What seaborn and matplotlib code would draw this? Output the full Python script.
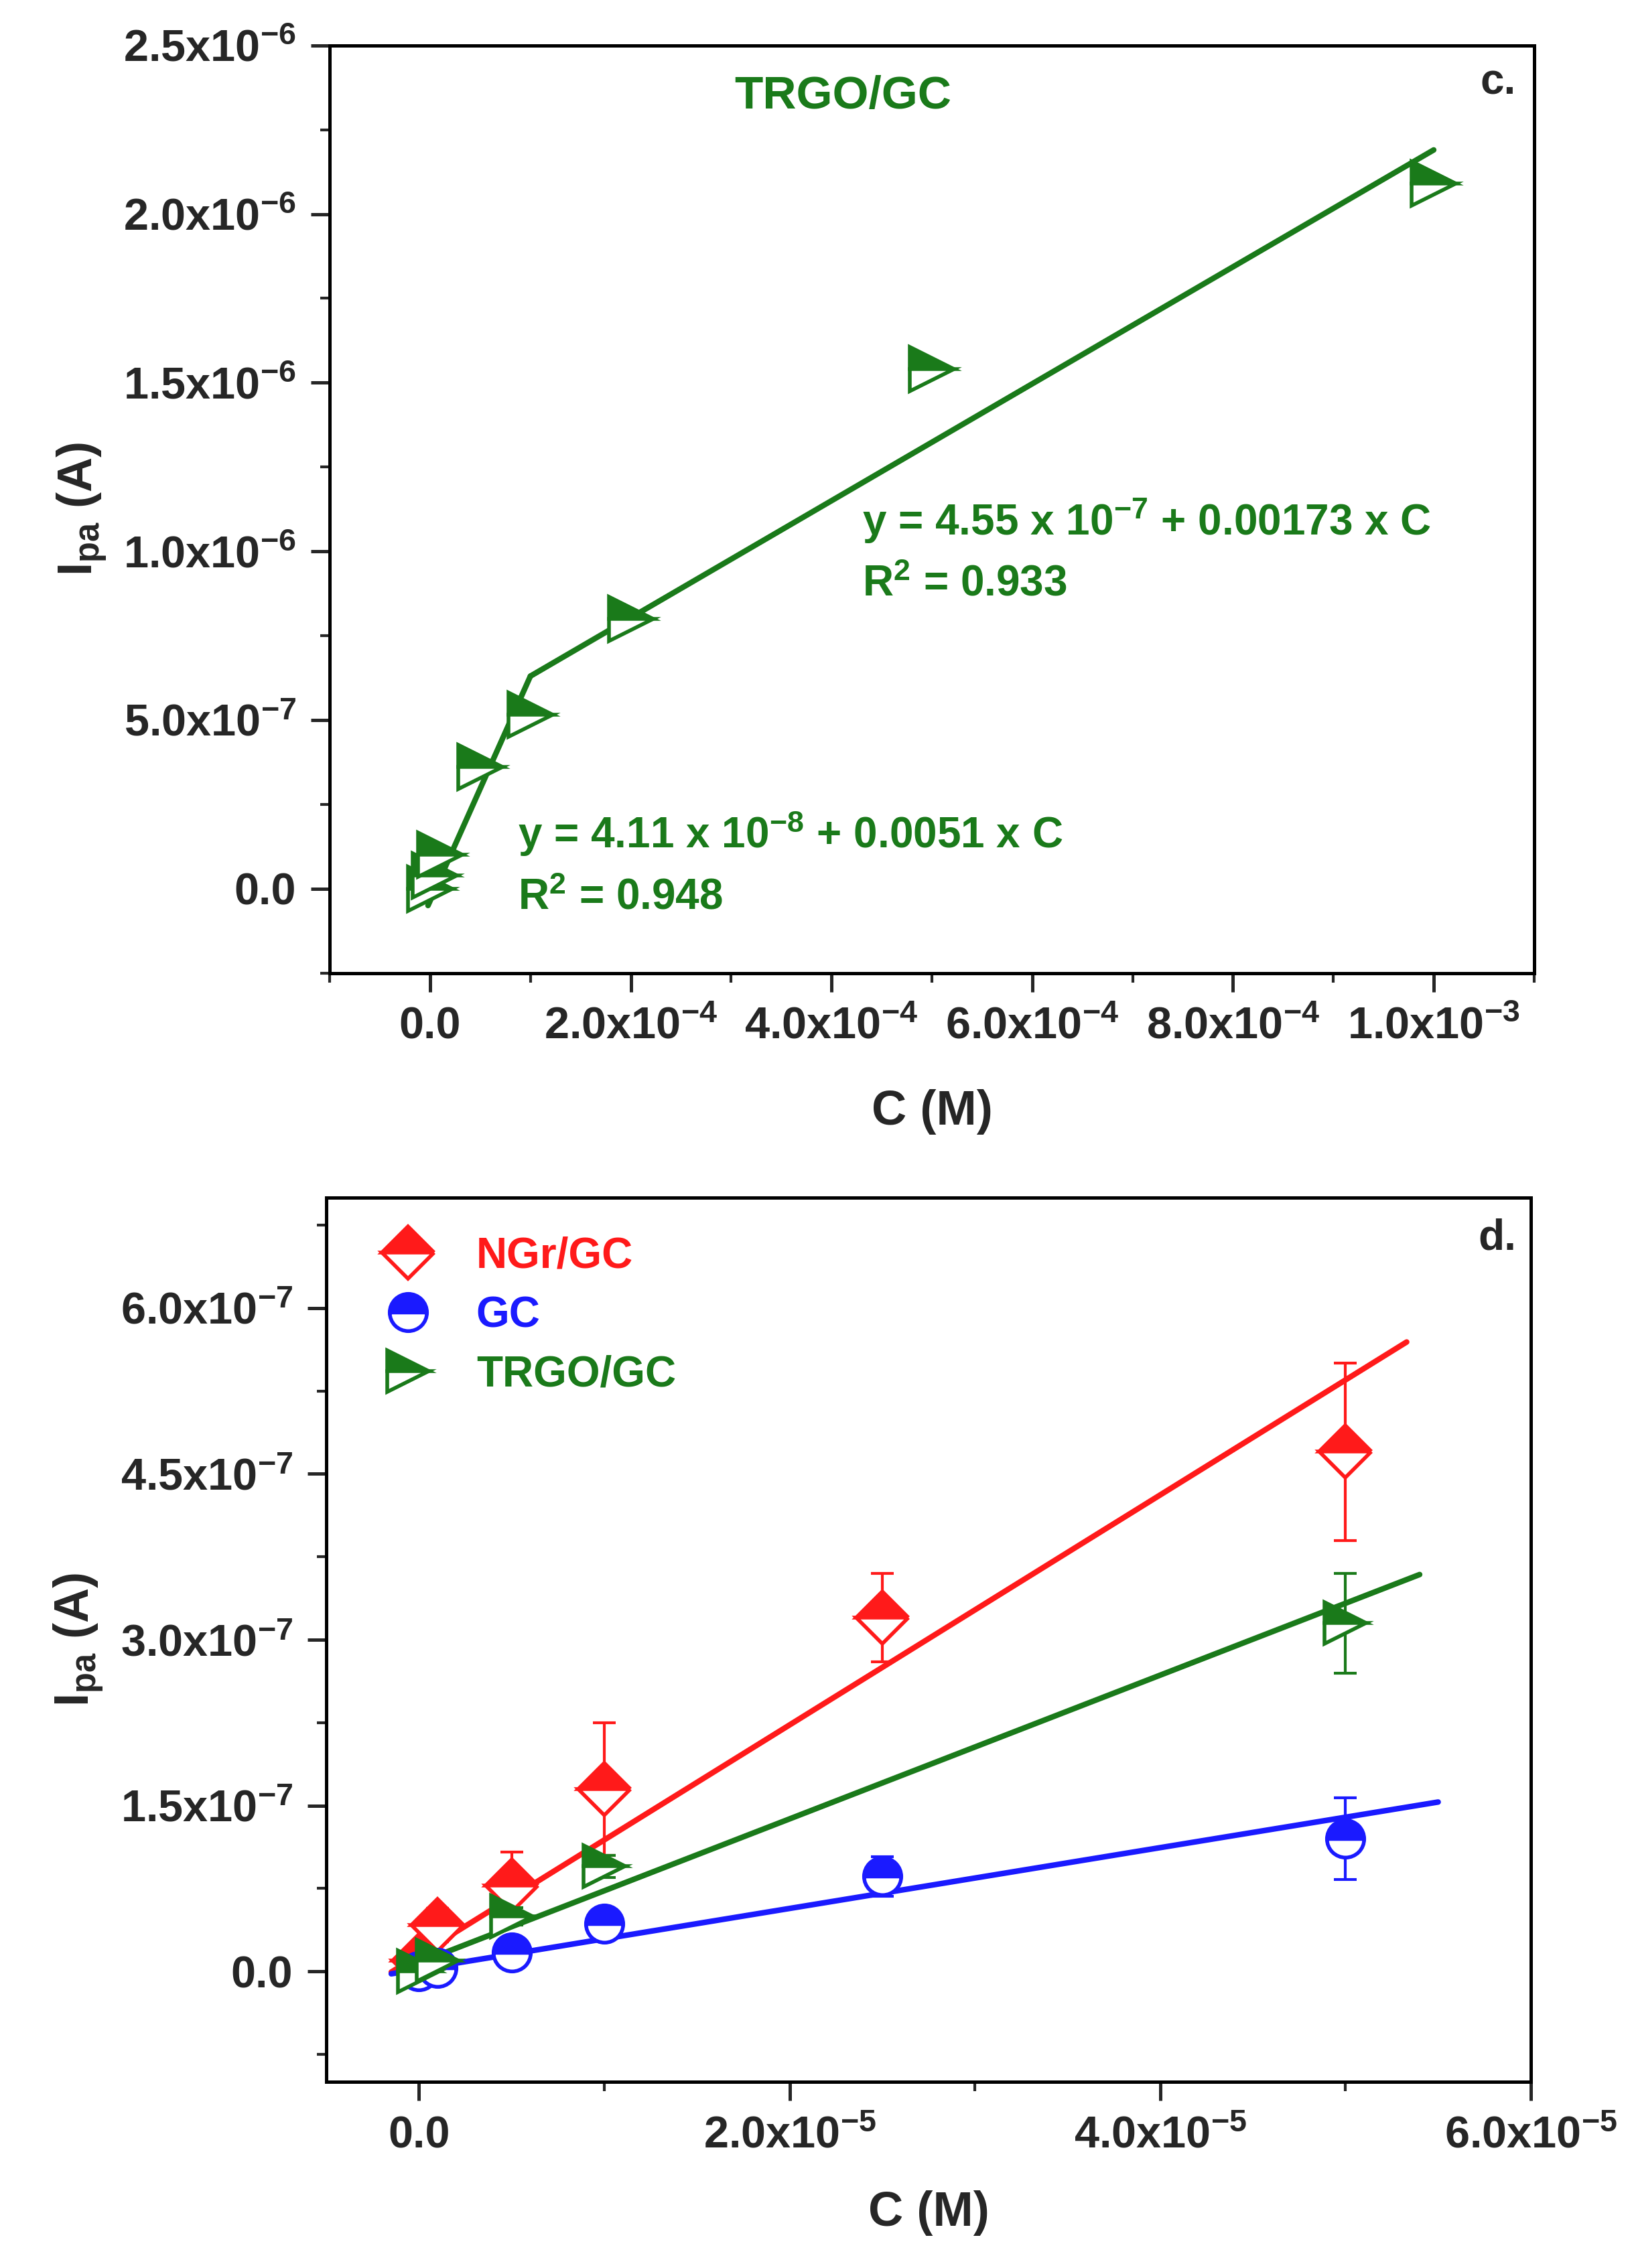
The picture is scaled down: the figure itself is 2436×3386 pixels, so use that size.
import matplotlib
matplotlib.use("Agg")
import matplotlib.pyplot as plt
import numpy as np
import seaborn as sns
from matplotlib.ticker import FuncFormatter, MultipleLocator

sns.set_style("ticks")
plt.rcParams["font.family"] = ["Liberation Sans", "DejaVu Sans"]
plt.rcParams["font.weight"] = "bold"
plt.rcParams["mathtext.fontset"] = "custom"
plt.rcParams["mathtext.rm"] = "Liberation Sans:bold"
plt.rcParams["mathtext.bf"] = "Liberation Sans:bold"
plt.rcParams["mathtext.it"] = "Liberation Sans:bold"

GREEN = "#1a7a1a"
RED = "#ff1a1a"
BLUE = "#1a1aff"

# panel c: TRGO/GC calibration
c_conc = [0, 5e-6, 1e-5, 5e-5, 1e-4, 2e-4, 5e-4, 1e-3]
c_ipa = [0.0, 0.04e-6, 0.10e-6, 0.36e-6, 0.515e-6, 0.80e-6, 1.54e-6, 2.09e-6]
c_fit1_x = [-2e-6, 1e-4]
c_fit1_y = [-0.05e-6, 0.63e-6]
c_fit2_x = [1e-4, 1e-3]
c_fit2_y = [0.63e-6, 2.19e-6]

# panel d: comparison of electrodes
d_conc = [0, 1e-6, 5e-6, 1e-5, 2.5e-5, 5e-5]
ngr_y = [0.10e-7, 0.42e-7, 0.78e-7, 1.65e-7, 3.2e-7, 4.7e-7]
ngr_err = [0.10e-7, 0.15e-7, 0.30e-7, 0.60e-7, 0.40e-7, 0.80e-7]
gc_y = [0.0, 0.03e-7, 0.17e-7, 0.43e-7, 0.86e-7, 1.2e-7]
gc_err = [0.03e-7, 0.04e-7, 0.05e-7, 0.05e-7, 0.18e-7, 0.37e-7]
trgo_x = [0, 1e-6, 5e-6, 1e-5, 5e-5]
trgo_y = [0.0, 0.10e-7, 0.50e-7, 0.95e-7, 3.15e-7]
trgo_err = [0.03e-7, 0.05e-7, 0.08e-7, 0.10e-7, 0.45e-7]
fit_slope = {"NGr/GC": 1.04e-2, "GC": 2.75e-3, "TRGO/GC": 6.5e-3}
fit_icpt = {"NGr/GC": 0.15e-7, "GC": 0.02e-7, "TRGO/GC": 0.08e-7}
fit_range = {"NGr/GC": (-1.5e-6, 5.33e-5), "GC": (-1.5e-6, 5.5e-5), "TRGO/GC": (-1e-6, 5.4e-5)}


def sci_fmt(v, pos):
    if abs(v) < 1e-20:
        return "0.0"
    e = int(np.floor(np.log10(abs(v))))
    m = v / 10 ** e
    return f"{m:.1f}x10$^{{{e}}}$"


def style_axes(ax):
    for s in ax.spines.values():
        s.set_linewidth(1.8)
        s.set_color("black")
    ax.tick_params(which="major", direction="out", length=10, width=1.8, labelsize=24, pad=8)
    ax.tick_params(which="minor", direction="out", length=5, width=1.5)
    ax.xaxis.set_major_formatter(FuncFormatter(sci_fmt))
    ax.yaxis.set_major_formatter(FuncFormatter(sci_fmt))
    for lab in ax.get_xticklabels() + ax.get_yticklabels():
        lab.set_fontweight("bold")


fig = plt.figure(figsize=(12.18, 16.93), dpi=200)
ax1 = fig.add_axes([0.202, 0.571, 0.738, 0.409])
ax2 = fig.add_axes([0.200, 0.082, 0.738, 0.390])

# panel c
sns.lineplot(x=c_fit1_x, y=c_fit1_y, ax=ax1, color=GREEN, lw=3)
sns.lineplot(x=c_fit2_x, y=c_fit2_y, ax=ax1, color=GREEN, lw=3)
ax1.plot(c_conc, c_ipa, ls="none", marker=">", ms=24, mew=2, color=GREEN,
         fillstyle="top", markerfacecoloralt="white")
ax1.set_xlim(-1e-4, 1.1e-3)
ax1.set_ylim(-0.25e-6, 2.5e-6)
ax1.xaxis.set_major_locator(MultipleLocator(2e-4))
ax1.xaxis.set_minor_locator(MultipleLocator(1e-4))
ax1.yaxis.set_major_locator(MultipleLocator(0.5e-6))
ax1.yaxis.set_minor_locator(MultipleLocator(0.25e-6))
style_axes(ax1)
ax1.set_xlabel("C (M)", fontsize=26, fontweight="bold", labelpad=22)
ax1.set_ylabel("I$_{pa}$ (A)", fontsize=26, fontweight="bold", labelpad=8)
ax1.text(0.426, 0.945, "TRGO/GC", transform=ax1.transAxes, color=GREEN, fontsize=25,
         fontweight="bold", ha="center", va="center")
ax1.text(0.985, 0.96, "c.", transform=ax1.transAxes, fontsize=23, fontweight="bold",
         ha="right", va="center")
ax1.text(0.442, 0.4875, "y = 4.55 x 10$^{-7}$ + 0.00173 x C", transform=ax1.transAxes,
         color=GREEN, fontsize=23, fontweight="bold", va="center")
ax1.text(0.442, 0.419, "R$^{2}$ = 0.933", transform=ax1.transAxes,
         color=GREEN, fontsize=23, fontweight="bold", va="center")
ax1.text(0.156, 0.15, "y = 4.11 x 10$^{-8}$ + 0.0051 x C", transform=ax1.transAxes,
         color=GREEN, fontsize=23, fontweight="bold", va="center")
ax1.text(0.156, 0.081, "R$^{2}$ = 0.948", transform=ax1.transAxes,
         color=GREEN, fontsize=23, fontweight="bold", va="center")

# panel d
series = [
    ("NGr/GC", d_conc, ngr_y, ngr_err, RED, "D", 20),
    ("GC", d_conc, gc_y, gc_err, BLUE, "o", 20),
    ("TRGO/GC", trgo_x, trgo_y, trgo_err, GREEN, ">", 22),
]
for name, xs, ys, es, col, mk, ms in series:
    lo, hi = fit_range[name]
    fx = np.array([lo, hi])
    sns.lineplot(x=fx, y=fit_icpt[name] + fit_slope[name] * fx, ax=ax2, color=col, lw=3)
for name, xs, ys, es, col, mk, ms in series:
    ax2.errorbar(xs, ys, yerr=es, fmt="none", ecolor=col, elinewidth=1.5, capsize=6, capthick=1.5)
    ax2.plot(xs, ys, ls="none", marker=mk, ms=ms, mew=2, color=col,
             fillstyle="top", markerfacecoloralt="white", label=name)
ax2.set_xlim(-0.5e-5, 6e-5)
ax2.set_ylim(-1e-7, 7e-7)
ax2.xaxis.set_major_locator(MultipleLocator(2e-5))
ax2.xaxis.set_minor_locator(MultipleLocator(1e-5))
ax2.yaxis.set_major_locator(MultipleLocator(1.5e-7))
ax2.yaxis.set_minor_locator(MultipleLocator(0.75e-7))
style_axes(ax2)
ax2.set_xlabel("C (M)", fontsize=26, fontweight="bold", labelpad=18)
ax2.set_ylabel("I$_{pa}$ (A)", fontsize=26, fontweight="bold", labelpad=8)
ax2.text(0.988, 0.954, "d.", transform=ax2.transAxes, fontsize=23, fontweight="bold",
         ha="right", va="center")
leg = ax2.legend(loc="upper left", frameon=False, fontsize=23, handletextpad=0.6,
                 labelspacing=0.45, borderaxespad=0.5)
for txt, col in zip(leg.get_texts(), [RED, BLUE, GREEN]):
    txt.set_color(col)
    txt.set_fontweight("bold")

fig.savefig("out.png", dpi=200)
